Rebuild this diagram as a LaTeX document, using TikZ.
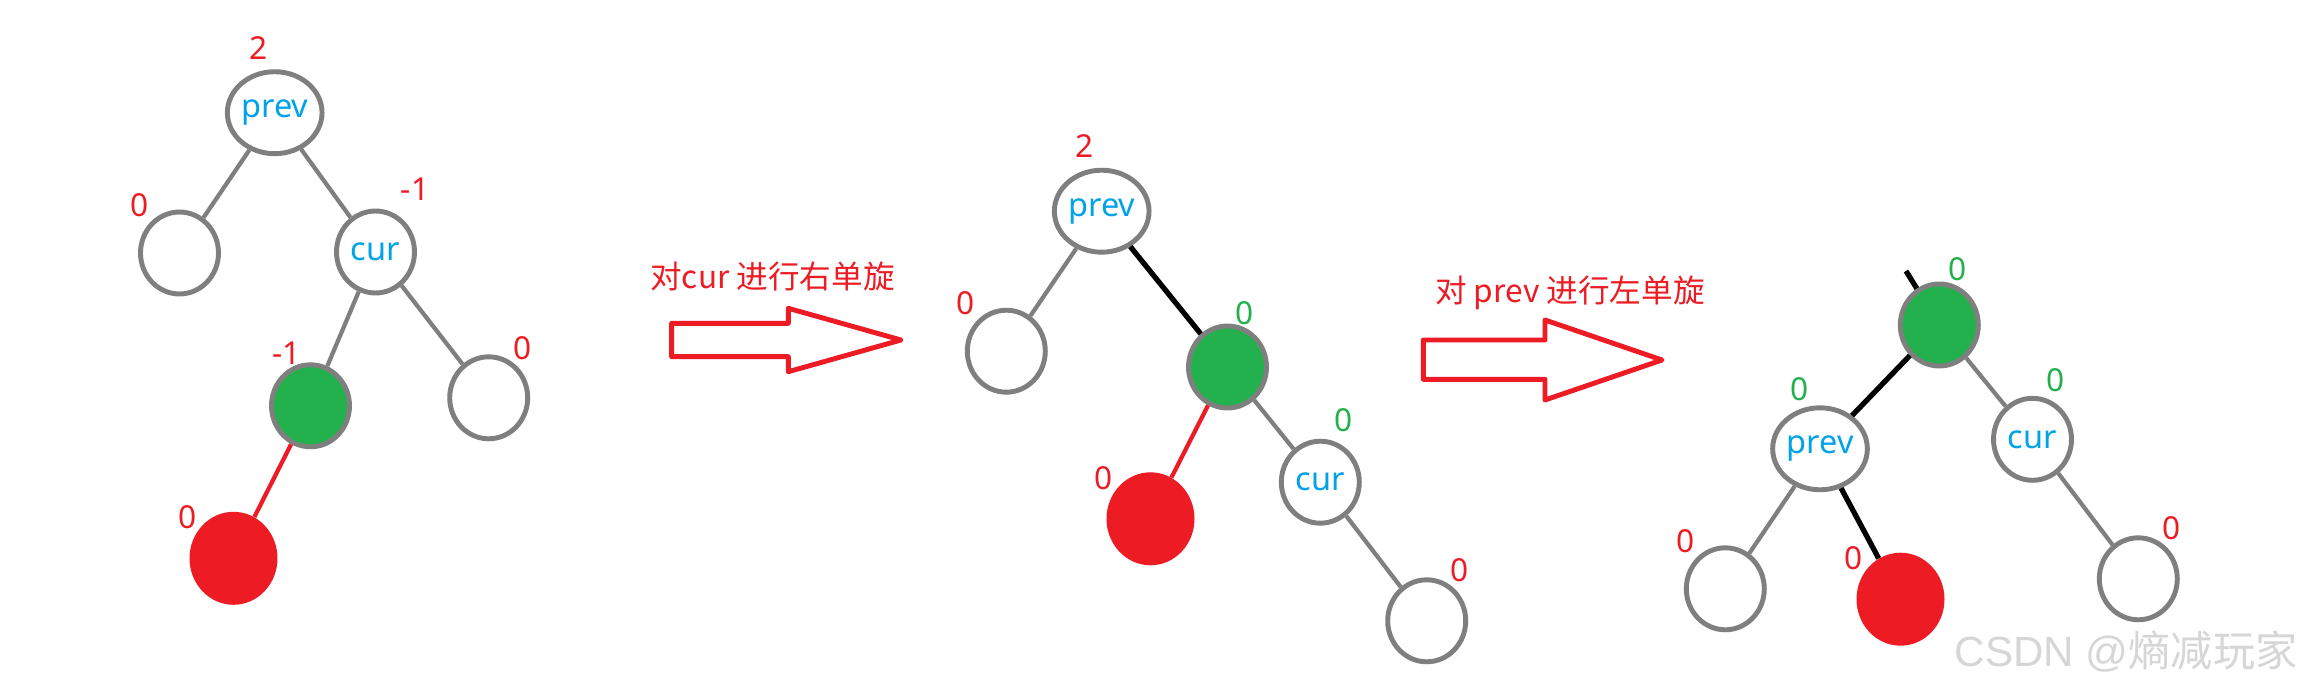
\documentclass[tikz,border=0pt]{standalone}
\usepackage{fontspec}
\usepackage{tikz}
\usetikzlibrary{shapes.geometric}
\newfontfamily\lat{Noto Sans}
\newfontfamily\cjk{Noto Sans CJK SC}
\newfontfamily\wmlat{Liberation Sans}
\definecolor{pred}{HTML}{ED1C24}
\definecolor{pgreen}{HTML}{22B14C}
\definecolor{linegray}{HTML}{7F7F7F}
\definecolor{txtblue}{HTML}{00A2E8}
\definecolor{wmgray}{HTML}{D6D6D6}

\begin{document}
\begin{tikzpicture}[x=0.02cm,y=-0.02cm,
    leaf/.style={ellipse,draw=linegray,line width=2.8pt,fill=white,
                 minimum width=1.56cm,minimum height=1.64cm,inner sep=0pt,
                 text=txtblue,font=\lat\fontsize{18.5}{20}\selectfont},
    greennode/.style={leaf,fill=pgreen},
    rednode/.style={ellipse,fill=pred,minimum width=1.76cm,minimum height=1.86cm,inner sep=0pt},
    bf/.style={inner sep=0pt,text=pred,font=\lat\fontsize{18}{20}\selectfont},
    bfg/.style={bf,text=pgreen},
    link/.style={draw=linegray,line width=2.4pt},
    redlink/.style={draw=pred,line width=2.4pt},
    blacklink/.style={draw=black,line width=3pt},
    bigarrow/.style={draw=pred,line width=2.8pt,line join=round,fill=white},
    steptext/.style={text=pred,inner sep=0pt,font=\cjk\fontsize{18}{20}\selectfont}]

  \useasboundingbox[fill=white] (0,0) rectangle (2306,689);

  % first tree
  \node[leaf] (p1) at (274.7,112.7) {prev};
  \node[leaf] (l1) at (179.5,253) {};
  \node[leaf] (c1) at (375.5,252) {cur};
  \node[greennode] (g1) at (310.5,405.8) {};
  \node[leaf] (r1) at (488.7,397.8) {};
  \node[rednode] (n1) at (233.5,558.3) {};
  \node[bf] (bp1) at (258.3,48.3) {2};
  \node[bf] (bl1) at (139.3,205) {0};
  \node[bf] (bc1) at (415,189.3) {-1};
  \node[bf] (bg1) at (286.7,353.3) {-1};
  \node[bf] (br1) at (522.7,348.3) {0};
  \node[bf] (bn1) at (187.3,516.7) {0};
  \path (p1) edge[link] (l1)
        (p1) edge[link] (c1)
        (c1) edge[link] (g1)
        (c1) edge[link] (r1)
        (g1) edge[redlink] (n1);

  % right rotation of cur
  \node[steptext] (t1) at (772.5,276.7) {对cur 进行右单旋};
  \draw[bigarrow] (671.7,323.3) -- (788.3,323.3) -- (788.3,308.3) -- (901,340)
      -- (788.3,371.7) -- (788.3,356.7) -- (671.7,356.7) -- cycle;

  % second tree
  \node[leaf] (p2) at (1101.7,211.2) {prev};
  \node[leaf] (l2) at (1006.3,351.2) {};
  \node[greennode] (g2) at (1227.5,367) {};
  \node[rednode] (n2) at (1150.5,518.8) {};
  \node[leaf] (c2) at (1320.3,482.2) {cur};
  \node[leaf] (r2) at (1426.7,620.8) {};
  \node[bf] (bp2) at (1085,146) {2};
  \node[bf] (bl2) at (966,303.3) {0};
  \node[bfg] (bg2) at (1245,312.7) {0};
  \node[bf] (bn2) at (1104,478.3) {0};
  \node[bfg] (bc2) at (1344,420) {0};
  \node[bf] (br2) at (1460,570) {0};
  \path (p2) edge[link] (l2)
        (p2) edge[blacklink] (g2)
        (g2) edge[redlink] (n2)
        (g2) edge[link] (c2)
        (c2) edge[link] (r2);

  % left rotation of prev
  \node[steptext] (t2) at (1570,293.3) {对 prev 进行左单旋};
  \draw[bigarrow] (1423.3,340) -- (1545,340) -- (1545,320) -- (1662,360)
      -- (1545,400) -- (1545,379.3) -- (1423.3,379.3) -- cycle;

  % third tree
  \node[greennode] (g3) at (1939.3,325) {};
  \node[leaf] (p3) at (1820,448.8) {prev};
  \node[leaf] (c3) at (2032.5,439.3) {cur};
  \node[leaf] (l3) at (1725.3,588.8) {};
  \node[rednode] (n3) at (1900.5,599.2) {};
  \node[leaf] (r3) at (2138.3,578.8) {};
  \node[bfg] (bg3) at (1957.3,269.3) {0};
  \node[bfg] (bp3) at (1800,389.3) {0};
  \node[bfg] (bc3) at (2056,380) {0};
  \node[bf] (bl3) at (1686,541) {0};
  \node[bf] (bn3) at (1854,558.3) {0};
  \node[bf] (br3) at (2171.7,528.3) {0};
  \coordinate (stub) at (1906,271);
  \draw[blacklink] (stub) -- (g3);
  \path (g3) edge[blacklink] (p3)
        (g3) edge[link] (c3)
        (p3) edge[link] (l3)
        (p3) edge[blacklink] (n3)
        (c3) edge[link] (r3);

  \node[text=wmgray,inner sep=0pt,font=\fontsize{24}{26}\selectfont] (wm) at (2126,651.7)
      {{\wmlat CSDN @}{\cjk 熵减玩家}};
\end{tikzpicture}
\end{document}
